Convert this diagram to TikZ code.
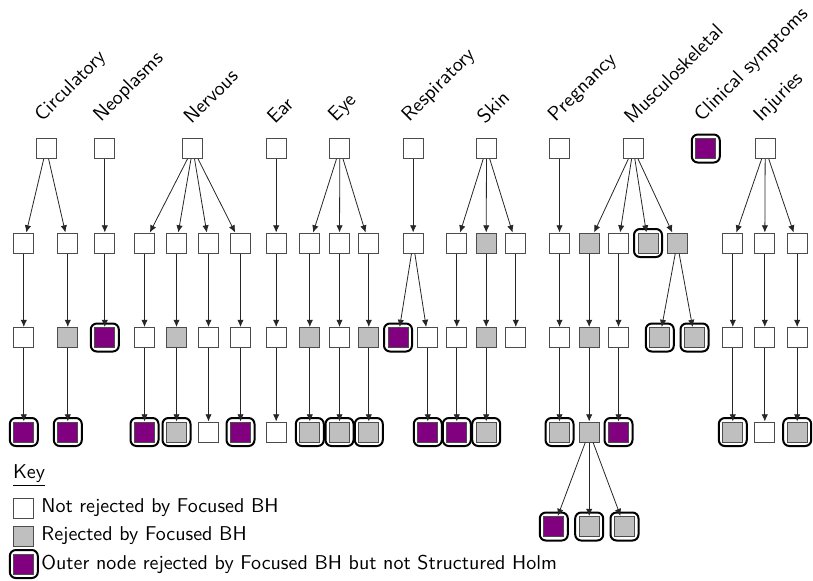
\documentclass[tikz,border=0pt]{standalone}
\usepackage{xcolor}
\usepackage{tikz}
\usetikzlibrary{positioning,arrows.meta}
\definecolor{holmpurple}{HTML}{800080}
\tikzset{
  hfont/.style={font=\sffamily},
  hbox/.style={draw=black!70, line width=0.5pt, minimum size=10pt, inner sep=0pt},
  hnrej/.style={hbox, fill=white},
  hrej/.style={hbox, fill=gray!50},
  hholm/.style={hbox, fill=holmpurple},
  houter/.style={label={[draw=black, line width=1pt, rounded corners=3pt, minimum size=14pt, inner sep=0pt]center:{}}},
  harrow/.style={-{Latex[length=3.6pt,width=3.2pt]}, draw=black!85, line width=0.4pt},
  hcat/.style={rotate=45, anchor=south west, inner sep=0pt},
}

\begin{document}
\begin{tikzpicture}[hfont, x=0.5pt, y=-0.5pt]
  \useasboundingbox (0,0) rectangle (813,580);

  % Circulatory
  \node[hnrej] (cir) at (46.2,148.5) {};
  \node[hnrej] (cirA) at (23.8,243) {};
  \node[hnrej] (cirB) at (67.8,243) {};
  \node[hnrej] (cirA2) at (23.8,337.5) {};
  \node[hrej] (cirB2) at (67.8,337.5) {};
  \node[hholm, houter] (cirA3) at (23.8,432) {};
  \node[hholm, houter] (cirB3) at (67.8,432) {};

  % Neoplasms
  \node[hnrej] (neo) at (104.8,148.5) {};
  \node[hnrej] (neoA) at (104.8,243) {};
  \node[hholm, houter] (neoA2) at (104.8,337.5) {};

  % Nervous
  \node[hnrej] (ner) at (192.8,148.5) {};
  \node[hnrej] (nerA) at (144.5,243) {};
  \node[hnrej] (nerB) at (176.5,243) {};
  \node[hnrej] (nerC) at (208.5,243) {};
  \node[hnrej] (nerD) at (240.5,243) {};
  \node[hnrej] (nerA2) at (144.5,337.5) {};
  \node[hrej] (nerB2) at (176.5,337.5) {};
  \node[hnrej] (nerC2) at (208.5,337.5) {};
  \node[hnrej] (nerD2) at (240.5,337.5) {};
  \node[hholm, houter] (nerA3) at (144.5,432) {};
  \node[hrej, houter] (nerB3) at (176.5,432) {};
  \node[hnrej] (nerC3) at (208.5,432) {};
  \node[hholm, houter] (nerD3) at (240.5,432) {};

  % Ear
  \node[hnrej] (ear) at (276.2,148.5) {};
  \node[hnrej] (earA) at (276.2,243) {};
  \node[hnrej] (earA2) at (276.2,337.5) {};
  \node[hnrej] (earA3) at (276.2,432) {};

  % Eye
  \node[hnrej] (eye) at (339.8,148.5) {};
  \node[hnrej] (eyeA) at (309.8,243) {};
  \node[hnrej] (eyeB) at (339.5,243) {};
  \node[hnrej] (eyeC) at (368.8,243) {};
  \node[hrej] (eyeA2) at (309.8,337.5) {};
  \node[hnrej] (eyeB2) at (339.5,337.5) {};
  \node[hrej] (eyeC2) at (368.8,337.5) {};
  \node[hrej, houter] (eyeA3) at (309.8,432) {};
  \node[hrej, houter] (eyeB3) at (339.5,432) {};
  \node[hrej, houter] (eyeC3) at (368.8,432) {};

  % Respiratory
  \node[hnrej] (res) at (413.2,148.5) {};
  \node[hnrej] (resA) at (413.2,243) {};
  \node[hholm, houter] (resA2) at (398,337.5) {};
  \node[hnrej] (resB2) at (427.8,337.5) {};
  \node[hholm, houter] (resB3) at (427.8,432) {};

  % Skin
  \node[hnrej] (ski) at (486.5,148.5) {};
  \node[hnrej] (skiA) at (456.8,243) {};
  \node[hrej] (skiB) at (486.2,243) {};
  \node[hnrej] (skiC) at (515.8,243) {};
  \node[hnrej] (skiA2) at (456.8,337.5) {};
  \node[hrej] (skiB2) at (486.2,337.5) {};
  \node[hnrej] (skiC2) at (515.8,337.5) {};
  \node[hholm, houter] (skiA3) at (456.8,432) {};
  \node[hrej, houter] (skiB3) at (486.2,432) {};

  % Pregnancy
  \node[hnrej] (pre) at (559.5,148.5) {};
  \node[hnrej] (preA) at (559.5,243) {};
  \node[hnrej] (preA2) at (559.5,337.5) {};
  \node[hrej, houter] (preA3) at (559.5,432) {};

  % Musculoskeletal
  \node[hnrej] (mus) at (633.2,148.5) {};
  \node[hrej] (musA) at (589.2,243) {};
  \node[hnrej] (musB) at (618.5,243) {};
  \node[hrej, houter] (musC) at (648,243) {};
  \node[hrej] (musD) at (677.2,243) {};
  \node[hrej] (musA2) at (589.2,337.5) {};
  \node[hnrej] (musB2) at (618.5,337.5) {};
  \node[hrej, houter] (musD2) at (659.8,337.5) {};
  \node[hrej, houter] (musE2) at (694.5,337.5) {};
  \node[hrej] (musA3) at (589.2,432) {};
  \node[hholm, houter] (musB3) at (618.5,432) {};
  \node[hholm, houter] (musA4) at (553.8,526.5) {};
  \node[hrej, houter] (musB4) at (589.2,526.5) {};
  \node[hrej, houter] (musC4) at (624.5,526.5) {};

  % Clinical symptoms
  \node[hholm, houter] (cli) at (705.8,148.5) {};

  % Injuries
  \node[hnrej] (inj) at (765.2,148.5) {};
  \node[hnrej] (injA) at (732.8,243) {};
  \node[hnrej] (injB) at (764.8,243) {};
  \node[hnrej] (injC) at (797.2,243) {};
  \node[hnrej] (injA2) at (732.8,337.5) {};
  \node[hnrej] (injB2) at (764.8,337.5) {};
  \node[hnrej] (injC2) at (797.2,337.5) {};
  \node[hrej, houter] (injA3) at (732.8,432) {};
  \node[hnrej] (injB3) at (764.8,432) {};
  \node[hrej, houter] (injC3) at (797.2,432) {};

  % Category labels
  \node[hcat] (tcir) at ([xshift=-0.5pt,yshift=6.2pt]cir.north) {Circulatory};
  \node[hcat] (tneo) at ([xshift=-0.5pt,yshift=6.2pt]neo.north) {Neoplasms};
  \node[hcat] (tner) at ([xshift=-0.5pt,yshift=6.2pt]ner.north) {Nervous};
  \node[hcat] (tear) at ([xshift=-0.5pt,yshift=6.2pt]ear.north) {Ear};
  \node[hcat] (teye) at ([xshift=-0.5pt,yshift=6.2pt]eye.north) {Eye};
  \node[hcat] (tres) at ([xshift=-0.5pt,yshift=6.2pt]res.north) {Respiratory};
  \node[hcat] (tski) at ([xshift=-0.5pt,yshift=6.2pt]ski.north) {Skin};
  \node[hcat] (tpre) at ([xshift=-0.5pt,yshift=6.2pt]pre.north) {Pregnancy};
  \node[hcat] (tmus) at ([xshift=-0.5pt,yshift=6.2pt]mus.north) {Musculoskeletal};
  \node[hcat] (tcli) at ([xshift=-0.5pt,yshift=6.2pt]cli.north) {Clinical symptoms};
  \node[hcat] (tinj) at ([xshift=-0.5pt,yshift=6.2pt]inj.north) {Injuries};

  % Arrows
  \draw[harrow] (cir) -- (cirA);
  \draw[harrow] (cir) -- (cirB);
  \draw[harrow] (cirA) -- (cirA2);
  \draw[harrow] (cirB) -- (cirB2);
  \draw[harrow] (cirA2) -- (cirA3);
  \draw[harrow] (cirB2) -- (cirB3);
  \draw[harrow] (neo) -- (neoA);
  \draw[harrow] (neoA) -- (neoA2);
  \draw[harrow] (ner) -- (nerA);
  \draw[harrow] (ner) -- (nerB);
  \draw[harrow] (ner) -- (nerC);
  \draw[harrow] (ner) -- (nerD);
  \draw[harrow] (nerA) -- (nerA2);
  \draw[harrow] (nerB) -- (nerB2);
  \draw[harrow] (nerC) -- (nerC2);
  \draw[harrow] (nerD) -- (nerD2);
  \draw[harrow] (nerA2) -- (nerA3);
  \draw[harrow] (nerB2) -- (nerB3);
  \draw[harrow] (nerC2) -- (nerC3);
  \draw[harrow] (nerD2) -- (nerD3);
  \draw[harrow] (ear) -- (earA);
  \draw[harrow] (earA) -- (earA2);
  \draw[harrow] (earA2) -- (earA3);
  \draw[harrow] (eye) -- (eyeA);
  \draw[harrow] (eye) -- (eyeB);
  \draw[harrow] (eye) -- (eyeC);
  \draw[harrow] (eyeA) -- (eyeA2);
  \draw[harrow] (eyeB) -- (eyeB2);
  \draw[harrow] (eyeC) -- (eyeC2);
  \draw[harrow] (eyeA2) -- (eyeA3);
  \draw[harrow] (eyeB2) -- (eyeB3);
  \draw[harrow] (eyeC2) -- (eyeC3);
  \draw[harrow] (res) -- (resA);
  \draw[harrow] (resA) -- (resA2);
  \draw[harrow] (resA) -- (resB2);
  \draw[harrow] (resB2) -- (resB3);
  \draw[harrow] (ski) -- (skiA);
  \draw[harrow] (ski) -- (skiB);
  \draw[harrow] (ski) -- (skiC);
  \draw[harrow] (skiA) -- (skiA2);
  \draw[harrow] (skiB) -- (skiB2);
  \draw[harrow] (skiC) -- (skiC2);
  \draw[harrow] (skiA2) -- (skiA3);
  \draw[harrow] (skiB2) -- (skiB3);
  \draw[harrow] (pre) -- (preA);
  \draw[harrow] (preA) -- (preA2);
  \draw[harrow] (preA2) -- (preA3);
  \draw[harrow] (mus) -- (musA);
  \draw[harrow] (mus) -- (musB);
  \draw[harrow] (mus) -- (musC);
  \draw[harrow] (mus) -- (musD);
  \draw[harrow] (musA) -- (musA2);
  \draw[harrow] (musB) -- (musB2);
  \draw[harrow] (musD) -- (musD2);
  \draw[harrow] (musD) -- (musE2);
  \draw[harrow] (musA2) -- (musA3);
  \draw[harrow] (musB2) -- (musB3);
  \draw[harrow] (musA3) -- (musA4);
  \draw[harrow] (musA3) -- (musB4);
  \draw[harrow] (musA3) -- (musC4);
  \draw[harrow] (inj) -- (injA);
  \draw[harrow] (inj) -- (injB);
  \draw[harrow] (inj) -- (injC);
  \draw[harrow] (injA) -- (injA2);
  \draw[harrow] (injB) -- (injB2);
  \draw[harrow] (injC) -- (injC2);
  \draw[harrow] (injA2) -- (injA3);
  \draw[harrow] (injB2) -- (injB3);
  \draw[harrow] (injC2) -- (injC3);

  % Key
  \node[anchor=base west, inner sep=0pt] (key) at (12.7,478) {\underline{Key}};
  \node[hnrej] (keynrej) at (23.8,508) {};
  \node[right=0pt of keynrej] (keynrejtxt) {Not rejected by Focused BH};
  \node[hrej] (keyrej) at (23.8,536) {};
  \node[right=0pt of keyrej] (keyrejtxt) {Rejected by Focused BH};
  \node[hholm, houter] (keyholm) at (23.8,564) {};
  \node[right=0pt of keyholm] (keyholmtxt) {Outer node rejected by Focused BH but not Structured Holm};
\end{tikzpicture}
\end{document}
